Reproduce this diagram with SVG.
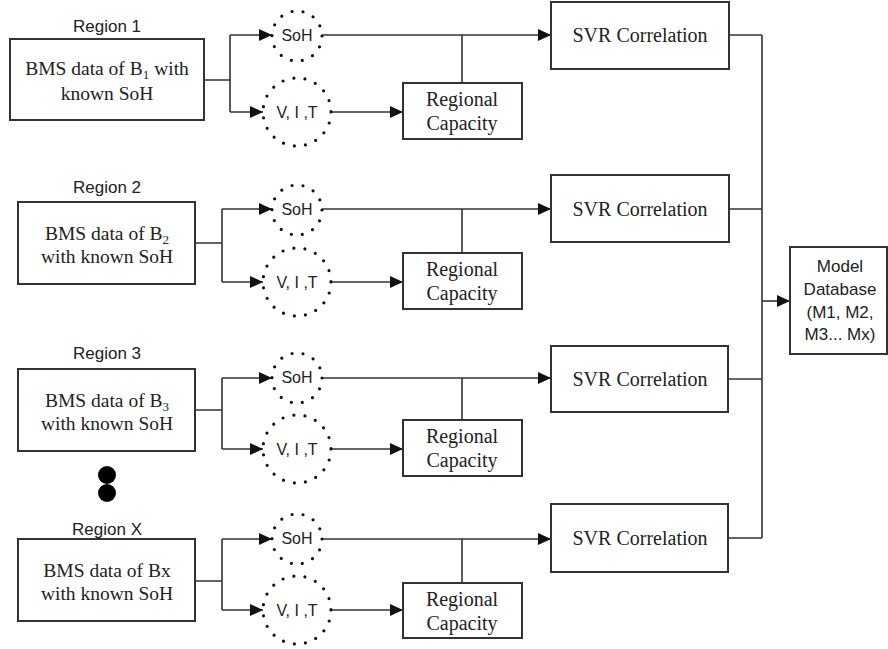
<svg xmlns="http://www.w3.org/2000/svg" width="888" height="649" viewBox="0 0 888 649">
<style>
.box{fill:#fff;stroke:#333;stroke-width:2}
.ln{fill:none;stroke:#333;stroke-width:1.6}
.arr{fill:none;stroke:#333;stroke-width:1.6;marker-end:url(#ah)}
.dot{fill:none;stroke:#111;stroke-width:3.2;stroke-linecap:round}
.lab{font-family:"Liberation Sans",Arial,sans-serif;font-size:17px;fill:#222;text-anchor:middle}
.sm{font-family:"Liberation Sans",Arial,sans-serif;font-size:16px;fill:#222;text-anchor:middle}
.tm{font-family:"Liberation Serif","Times New Roman",serif;font-size:19.5px;fill:#222;text-anchor:middle}
.tm2{font-family:"Liberation Serif","Times New Roman",serif;font-size:20px;fill:#222;text-anchor:middle}
.sub{font-size:13px}
</style>
<defs>
<marker id="ah" markerUnits="userSpaceOnUse" markerWidth="14" markerHeight="12" refX="13" refY="6" orient="auto"><path d="M0,0 L13,6 L0,12 z" fill="#111"/></marker>
</defs>

<g id="connectors">
<path class="ln" d="M204,80 H230 M230,35 V112"/>
<path class="arr" d="M230,35 H272"/>
<path class="arr" d="M230,112 H263"/>
<path class="arr" d="M322,35 H551"/>
<path class="ln" d="M462,35 V83"/>
<path class="arr" d="M331,112 H403"/>
<path class="ln" d="M729,35 H762"/>
<path class="ln" d="M195,243 H222 M222,209 V282"/>
<path class="arr" d="M222,209 H272"/>
<path class="arr" d="M222,282 H263"/>
<path class="arr" d="M322,209 H551"/>
<path class="ln" d="M462,209 V253"/>
<path class="arr" d="M331,282 H403"/>
<path class="ln" d="M729,209 H762"/>
<path class="ln" d="M195,410 H222 M222,378 V449"/>
<path class="arr" d="M222,378 H272"/>
<path class="arr" d="M222,449 H263"/>
<path class="arr" d="M322,378 H551"/>
<path class="ln" d="M462,378 V420"/>
<path class="arr" d="M331,449 H403"/>
<path class="ln" d="M728,379 H762"/>
<path class="ln" d="M195,581 H222 M222,539 V610"/>
<path class="arr" d="M222,539 H272"/>
<path class="arr" d="M222,610 H263"/>
<path class="arr" d="M322,539 H551"/>
<path class="ln" d="M462,539 V583"/>
<path class="arr" d="M331,610 H403"/>
<path class="ln" d="M728,538 H762"/>
<path class="ln" d="M762,35 V538"/>
<path class="arr" d="M762,301 H790"/>
</g>

<g id="region1">
<text class="lab" x="107" y="32">Region 1</text>
<rect class="box" x="10" y="39" width="194" height="81"/>
<text class="tm" x="107" y="75">BMS data of B<tspan class="sub" dy="4">1</tspan><tspan dy="-4"> with</tspan></text>
<text class="tm" x="107" y="100">known SoH</text>
</g>
<g id="soh1"><circle class="dot" cx="297" cy="36" r="25" stroke-dasharray="0 11.2"/><text class="sm" x="297" y="41">SoH</text></g>
<g id="vit1"><circle class="dot" cx="297" cy="112" r="34" stroke-dasharray="0 11.2"/><text class="sm" x="297" y="118">V, I ,T</text></g>
<g id="rc1"><rect class="box" x="403" y="83" width="119" height="56"/><text class="tm2" x="462" y="106">Regional</text><text class="tm2" x="462" y="130">Capacity</text></g>
<g id="svr1"><rect class="box" x="551" y="2" width="178" height="67"/><text class="tm2" x="640" y="42">SVR Correlation</text></g>

<g id="region2">
<text class="lab" x="107" y="193">Region 2</text>
<rect class="box" x="18" y="202" width="177" height="82"/>
<text class="tm" x="107" y="240">BMS data of B<tspan class="sub" dy="4">2</tspan></text>
<text class="tm" x="107" y="263">with known SoH</text>
</g>
<g id="soh2"><circle class="dot" cx="297" cy="210" r="25" stroke-dasharray="0 11.2"/><text class="sm" x="297" y="215">SoH</text></g>
<g id="vit2"><circle class="dot" cx="297" cy="282" r="34" stroke-dasharray="0 11.2"/><text class="sm" x="297" y="288">V, I ,T</text></g>
<g id="rc2"><rect class="box" x="403" y="253" width="119" height="56"/><text class="tm2" x="462" y="276">Regional</text><text class="tm2" x="462" y="300">Capacity</text></g>
<g id="svr2"><rect class="box" x="551" y="175" width="178" height="67"/><text class="tm2" x="640" y="216">SVR Correlation</text></g>

<g id="region3">
<text class="lab" x="107" y="359">Region 3</text>
<rect class="box" x="18" y="369" width="177" height="82"/>
<text class="tm" x="107" y="407">BMS data of B<tspan class="sub" dy="4">3</tspan></text>
<text class="tm" x="107" y="430">with known SoH</text>
</g>
<g id="soh3"><circle class="dot" cx="297" cy="378" r="25" stroke-dasharray="0 11.2"/><text class="sm" x="297" y="383">SoH</text></g>
<g id="vit3"><circle class="dot" cx="297" cy="449" r="34" stroke-dasharray="0 11.2"/><text class="sm" x="297" y="455">V, I ,T</text></g>
<g id="rc3"><rect class="box" x="403" y="420" width="119" height="56"/><text class="tm2" x="462" y="443">Regional</text><text class="tm2" x="462" y="467">Capacity</text></g>
<g id="svr3"><rect class="box" x="551" y="346" width="177" height="66"/><text class="tm2" x="640" y="386">SVR Correlation</text></g>

<g id="ellipsis"><circle cx="107" cy="475" r="9" fill="#000"/><circle cx="107" cy="493" r="9" fill="#000"/></g>

<g id="regionX">
<text class="lab" x="107" y="535">Region X</text>
<rect class="box" x="18" y="539" width="177" height="82"/>
<text class="tm" x="107" y="577">BMS data of Bx</text>
<text class="tm" x="107" y="600">with known SoH</text>
</g>
<g id="sohX"><circle class="dot" cx="297" cy="539" r="25" stroke-dasharray="0 11.2"/><text class="sm" x="297" y="544">SoH</text></g>
<g id="vitX"><circle class="dot" cx="297" cy="610" r="34" stroke-dasharray="0 11.2"/><text class="sm" x="297" y="616">V, I ,T</text></g>
<g id="rcX"><rect class="box" x="403" y="583" width="119" height="55"/><text class="tm2" x="462" y="606">Regional</text><text class="tm2" x="462" y="630">Capacity</text></g>
<g id="svrX"><rect class="box" x="551" y="504" width="177" height="68"/><text class="tm2" x="640" y="545">SVR Correlation</text></g>

<g id="modeldb">
<rect class="box" x="790" y="247" width="97" height="107"/>
<text class="lab" x="840" y="272">Model</text>
<text class="lab" x="840" y="295">Database</text>
<text class="lab" x="840" y="318">(M1, M2,</text>
<text class="lab" x="840" y="340">M3... Mx)</text>
</g>
</svg>
